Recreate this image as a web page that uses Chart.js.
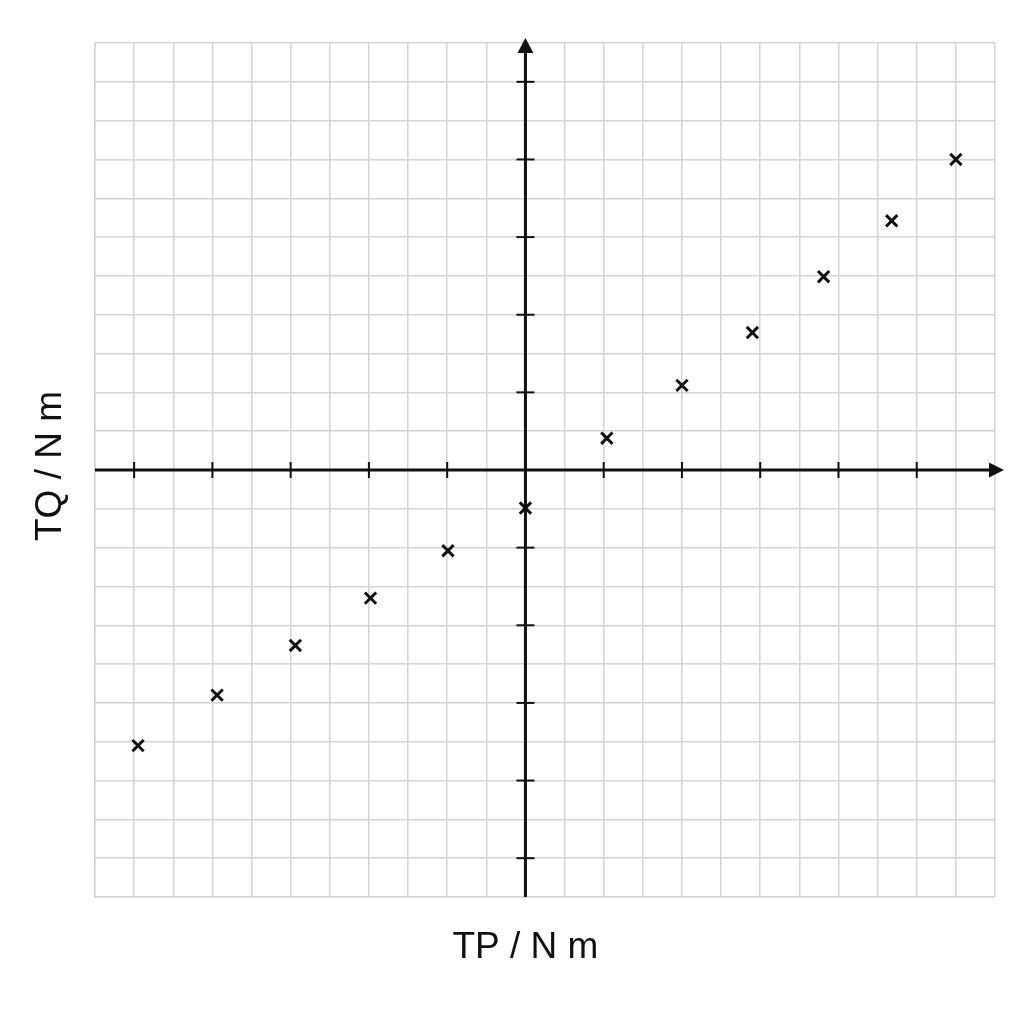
<!DOCTYPE html>
<html>
<head>
<meta charset="utf-8">
<script src="https://cdn.jsdelivr.net/npm/chart.js@4"></script>
<style>
  html, body { margin: 0; padding: 0; background: #ffffff; }
  #wrap { width: 1024px; height: 1024px; }
</style>
</head>
<body>
<div id="wrap"><canvas id="c" width="1024" height="1024"></canvas></div>
<script>
// ---- data ----
const tpValues = [-4.95, -3.94, -2.94, -1.98, -0.99, 0.0, 1.04, 2.0, 2.90, 3.81, 4.68, 5.50];
const tqValues = [-3.55, -2.90, -2.26, -1.65, -1.04, -0.49, 0.41, 1.09, 1.77, 2.49, 3.21, 4.00];
const xTicks = [-5, -4, -3, -2, -1, 1, 2, 3, 4, 5];
const yTicks = [-5, -4, -3, -2, -1, 1, 2, 3, 4, 5];
const xTitle = 'TP / N m';
const yTitle = 'TQ / N m';

const points = tpValues.map((x, i) => ({ x: x, y: tqValues[i] }));

const axesPlugin = {
  id: 'crossAxes',
  beforeDatasetsDraw(chart) {
    const ctx = chart.ctx;
    const xs = chart.scales.x, ys = chart.scales.y;
    const a = chart.chartArea;
    const x0 = xs.getPixelForValue(0);
    const y0 = ys.getPixelForValue(0);
    ctx.save();
    ctx.strokeStyle = '#111111';
    ctx.fillStyle = '#111111';
    ctx.lineWidth = 3;
    // x axis
    ctx.beginPath();
    ctx.moveTo(a.left, y0);
    ctx.lineTo(a.right - 4, y0);
    ctx.stroke();
    // y axis
    ctx.beginPath();
    ctx.moveTo(x0, a.bottom);
    ctx.lineTo(x0, a.top + 6);
    ctx.stroke();
    // ticks
    ctx.lineWidth = 2;
    xTicks.forEach(v => {
      const px = xs.getPixelForValue(v);
      ctx.beginPath();
      ctx.moveTo(px, y0 - 8);
      ctx.lineTo(px, y0 + 8);
      ctx.stroke();
    });
    yTicks.forEach(v => {
      const py = ys.getPixelForValue(v);
      ctx.beginPath();
      ctx.moveTo(x0 - 9, py);
      ctx.lineTo(x0 + 9, py);
      ctx.stroke();
    });
    // arrows
    ctx.beginPath();
    ctx.moveTo(x0, a.top - 5);
    ctx.lineTo(x0 - 8, a.top + 10);
    ctx.lineTo(x0 + 8, a.top + 10);
    ctx.closePath();
    ctx.fill();
    ctx.beginPath();
    ctx.moveTo(a.right + 9, y0);
    ctx.lineTo(a.right - 6, y0 - 7.5);
    ctx.lineTo(a.right - 6, y0 + 7.5);
    ctx.closePath();
    ctx.fill();
    ctx.restore();
  },
  afterDraw(chart) {
    const ctx = chart.ctx;
    const xs = chart.scales.x;
    const x0 = xs.getPixelForValue(0);
    ctx.save();
    ctx.fillStyle = '#111111';
    ctx.font = '37px "Liberation Sans", Arial, sans-serif';
    ctx.textAlign = 'center';
    ctx.textBaseline = 'alphabetic';
    ctx.fillText(xTitle, x0, 958);
    ctx.translate(61, (chart.chartArea.top + chart.chartArea.bottom) / 2 - 4);
    ctx.rotate(-Math.PI / 2);
    ctx.fillText(yTitle, 0, 0);
    ctx.restore();
  }
};

new Chart(document.getElementById('c'), {
  type: 'scatter',
  data: {
    datasets: [{
      label: 'TQ vs TP',
      data: points,
      pointStyle: 'crossRot',
      pointRadius: 8,
      pointHoverRadius: 8,
      borderColor: '#111111',
      backgroundColor: '#111111',
      pointBorderWidth: 3,
      borderWidth: 3
    }]
  },
  plugins: [axesPlugin],
  options: {
    responsive: false,
    animation: false,
    events: [],
    layout: { padding: { left: 95, right: 29, top: 43, bottom: 127 } },
    plugins: { legend: { display: false }, tooltip: { enabled: false }, title: { display: false } },
    scales: {
      x: {
        type: 'linear',
        min: -5.5,
        max: 6,
        ticks: { display: false, stepSize: 0.5 },
        grid: { color: '#d4d4d4', lineWidth: 1.5, drawTicks: false },
        border: { display: true, color: '#d4d4d4', width: 1.5 },
        title: { display: false }
      },
      y: {
        type: 'linear',
        min: -5.5,
        max: 5.5,
        ticks: { display: false, stepSize: 0.5 },
        grid: { color: '#d4d4d4', lineWidth: 1.5, drawTicks: false },
        border: { display: true, color: '#d4d4d4', width: 1.5 },
        title: { display: false }
      }
    }
  }
});
</script>
</body>
</html>
